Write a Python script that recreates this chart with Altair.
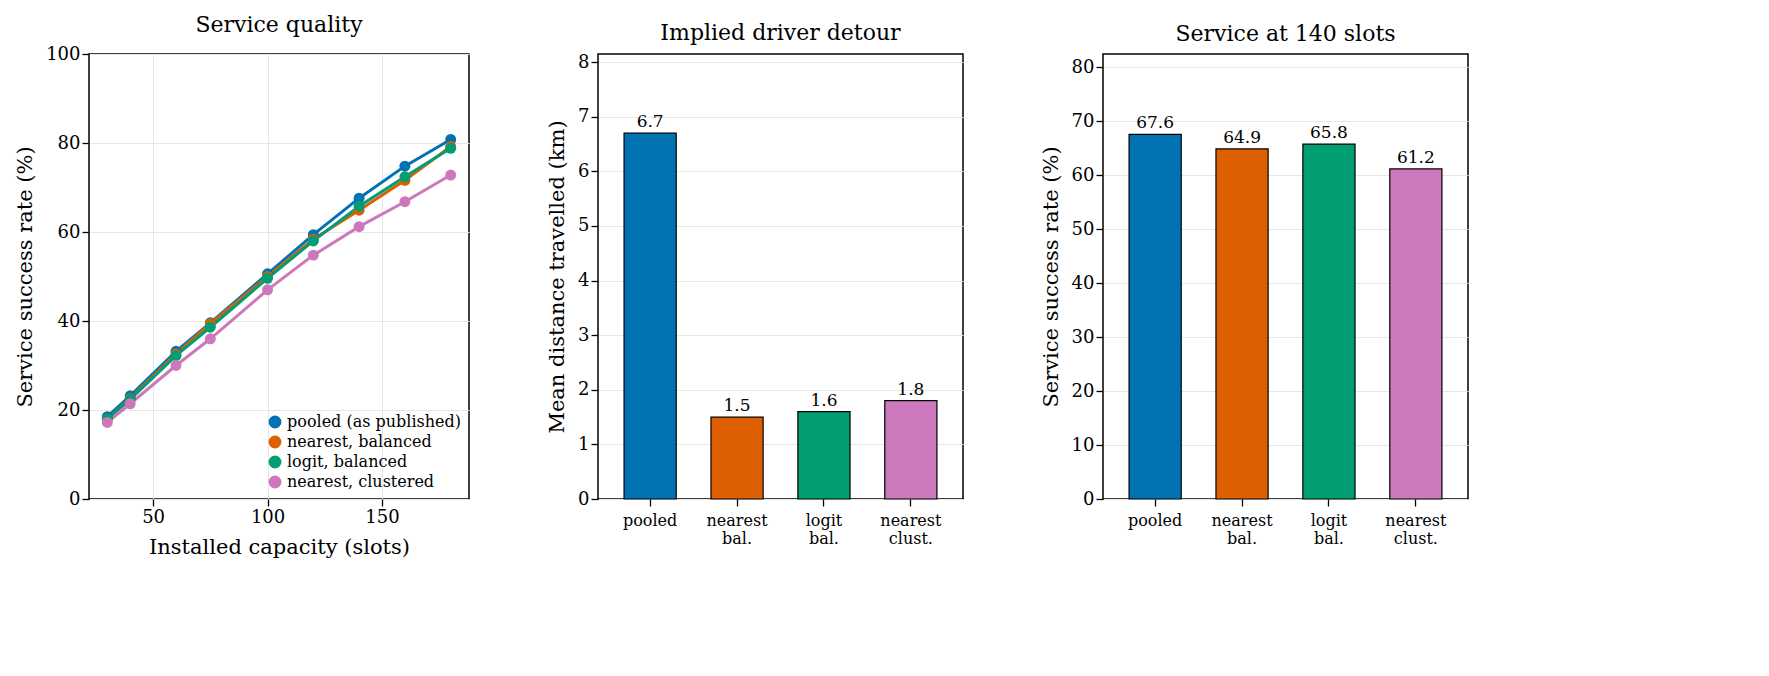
import pandas as pd
import altair as alt

capacity = [30, 40, 60, 75, 100, 120, 140, 160, 180]
pooled = [18.5, 23.2, 33.2, 39.6, 50.6, 59.4, 67.6, 74.8, 80.8]
nearest_bal = [18.0, 22.6, 32.6, 39.4, 50.0, 58.4, 64.9, 71.6, 79.2]
logit_bal = [18.0, 22.4, 32.2, 38.6, 49.6, 58.0, 65.8, 72.4, 78.8]
nearest_clust = [17.2, 21.4, 30.0, 36.0, 47.0, 54.8, 61.2, 66.8, 72.8]

series = ["pooled (as published)", "nearest, balanced", "logit, balanced", "nearest, clustered"]
colors = ["#0173b2", "#de5f00", "#029e73", "#cc78bc"]

bar_keys = ["pooled", "nearest|bal.", "logit|bal.", "nearest|clust."]
detour_km = [6.7, 1.5, 1.6, 1.8]
service_140 = [67.6, 64.9, 65.8, 61.2]

FONT = "DejaVu Serif"

rows = []
for name, vals in zip(series, [pooled, nearest_bal, logit_bal, nearest_clust]):
    for c, v in zip(capacity, vals):
        rows.append({"capacity": c, "rate": v, "series": name})
lines_df = pd.DataFrame(rows)

color_scale = alt.Scale(domain=series, range=colors)

line_chart = alt.Chart(lines_df, title="Service quality").mark_line(
    point=alt.OverlayMarkDef(size=120, filled=True, opacity=1), strokeWidth=3
).encode(
    x=alt.X("capacity:Q", title="Installed capacity (slots)",
            scale=alt.Scale(domain=[22, 188], nice=False),
            axis=alt.Axis(values=[50, 100, 150])),
    y=alt.Y("rate:Q", title="Service success rate (%)",
            scale=alt.Scale(domain=[0, 100]), axis=alt.Axis(values=[0, 20, 40, 60, 80, 100])),
    color=alt.Color("series:N", scale=color_scale, sort=series,
                    legend=alt.Legend(title=None, orient="bottom-right", symbolType="circle",
                                      symbolSize=130, labelFontSize=16, labelFont=FONT,
                                      labelLimit=300, offset=8, rowPadding=2)),
).properties(width=380, height=445)

bar_colors = alt.Scale(domain=bar_keys, range=colors)
label_axis = alt.Axis(labelAngle=0, labelExpr="split(datum.label, '|')", labelFontSize=16,
                      labelPadding=6, title=None)


def bar_panel(values, title, ytitle, ymax, ticks):
    df = pd.DataFrame({"key": bar_keys, "value": values})
    base = alt.Chart(df, title=title).encode(
        x=alt.X("key:N", sort=bar_keys, axis=label_axis,
                scale=alt.Scale(paddingInner=0.4, paddingOuter=0.3)),
        y=alt.Y("value:Q", title=ytitle, scale=alt.Scale(domain=[0, ymax], nice=False),
                axis=alt.Axis(values=ticks)),
    )
    bars = base.mark_bar(stroke="black", strokeWidth=1.2).encode(
        fill=alt.Fill("key:N", scale=bar_colors, legend=None))
    text = base.mark_text(dy=-11, fontSize=17, font=FONT).encode(
        text=alt.Text("value:Q", format=".1f"))
    return (bars + text).properties(width=365, height=445)


detour = bar_panel(detour_km, "Implied driver detour", "Mean distance travelled (km)",
                   8.15, list(range(0, 9)))
service = bar_panel(service_140, "Service at 140 slots", "Service success rate (%)",
                    82.5, list(range(0, 90, 10)))

chart = alt.hconcat(line_chart, detour, service, spacing=75).resolve_scale(
    color="independent", fill="independent"
).configure(
    font=FONT
).configure_view(
    stroke="black", strokeWidth=1.5
).configure_axis(
    labelFont=FONT, titleFont=FONT, labelFontSize=18, titleFontSize=21,
    labelColor="black", titleColor="black", titleFontWeight="normal",
    gridColor="#e6e6e6", domain=False, tickColor="black", tickSize=7, tickWidth=1.3,
    titlePadding=10,
).configure_title(
    font=FONT, fontSize=22, fontWeight="normal", color="black", offset=8
)

chart.save("out.html", embed_options={"renderer": "svg", "actions": False})
